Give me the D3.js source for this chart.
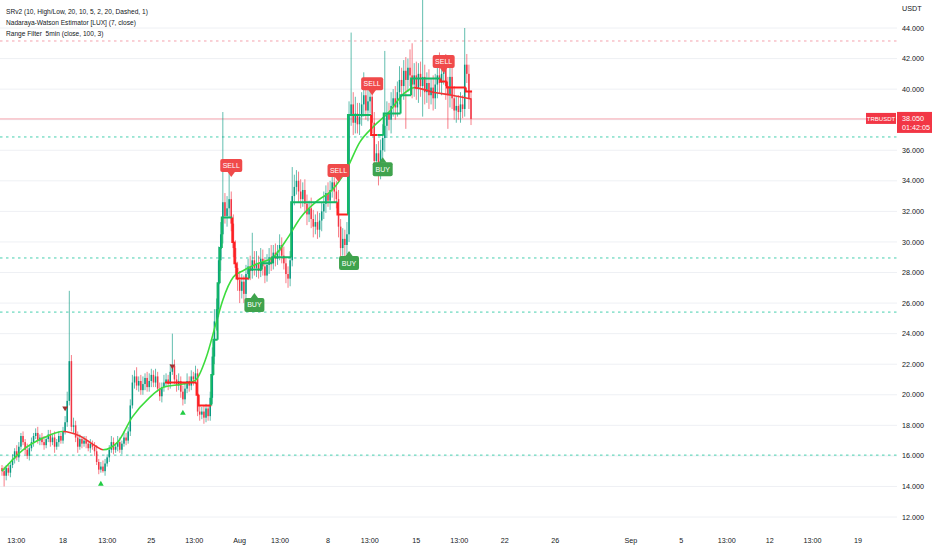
<!DOCTYPE html>
<html><head><meta charset="utf-8">
<script src="https://cdn.jsdelivr.net/npm/d3@7"></script>
<style>
body{margin:0;background:#fff;overflow:hidden}
svg{display:block;font-family:"Liberation Sans",Arial,sans-serif}
</style>
</head><body>
<svg id="c" width="932" height="550"></svg>
<script>
// ---------- DATA ----------
const symbol = "TRBUSDT";
const lastPrice = 38.05;
const countdown = "01:42:05";
const legendLines = ["SRv2 (10, High/Low, 20, 10, 5, 2, 20, Dashed, 1)",
  "Nadaraya-Watson Estimator [LUX] (7, close)",
  "Range Filter  5min (close, 100, 3)"];
const startDay = 13 + 4/24;           // first 4h candle: Jul 13 04:00 (day-of-July units)
const firstOpen = 15.2;
const closes = [
15.0,14.7,15.2,14.9,15.4,15.8,16.3,15.9,16.6,17.3,
16.9,16.4,16.0,16.5,16.9,17.3,17.5,17.0,17.2,16.9,
16.7,17.1,17.4,16.9,17.2,16.6,16.9,17.3,17.0,17.6,
18.2,19.6,22.2,17.9,18.0,17.2,16.6,17.1,16.8,17.0,
16.8,16.5,16.8,16.6,16.3,15.6,15.1,15.3,15.0,15.5,
15.9,16.4,16.9,16.4,16.6,16.9,16.4,16.8,17.2,17.0,
17.6,19.3,20.8,21.2,20.6,20.9,20.3,20.7,21.1,20.5,
20.9,21.3,20.8,21.2,20.4,19.9,20.5,20.8,21.0,20.7,
21.5,21.9,21.0,20.6,20.9,20.2,19.7,20.4,20.9,20.6,
21.2,21.0,21.4,18.9,18.7,18.9,18.5,19.1,18.6,19.8,
22.5,24.8,25.6,28.8,30.5,32.6,31.7,32.2,32.8,31.2,
29.6,28.3,27.5,26.8,27.4,26.6,27.9,28.4,28.1,28.8,
28.3,28.6,28.1,28.9,28.4,27.8,28.5,29.0,28.6,29.3,
28.9,29.4,29.8,29.1,28.6,27.9,27.6,28.8,33.0,33.6,
34.0,33.3,32.8,33.4,32.5,31.8,32.2,31.5,31.0,31.3,
30.8,31.4,32.0,32.5,33.2,32.7,33.4,33.9,33.3,32.8,
31.0,29.6,30.2,29.8,30.5,38.3,39.0,37.8,38.4,37.7,
38.2,39.0,39.6,38.6,39.2,39.5,37.8,35.3,35.8,34.9,
36.0,36.8,37.6,38.4,38.0,38.9,39.4,38.8,39.8,40.6,
40.2,41.2,40.6,41.4,40.9,40.3,40.9,40.0,41.0,40.2,
40.8,39.8,40.4,39.6,40.1,39.4,40.3,40.9,40.4,41.0,
41.4,40.2,39.6,40.8,39.4,38.6,38.9,38.5,39.0,38.7,
41.6,41.0,39.4,38.05];
const wickUp = [
.2,.3,.2,.3,.2,.3,.2,.4,.3,.2, .3,.2,.4,.2,.3,.2,.3,.4,.2,.3,
.4,.2,.3,.3,.2,.4,.2,.3,.2,.3, .4,.6,4.6,.4,.5,.3,.4,.3,.2,.3,
.3,.2,.3,.2,.3,.4,.2,.3,.4,.3, .2,.3,.4,.3,.2,.4,.3,.2,.4,.3,
.3,.4,.5,.4,.6,.3,.4,.5,.3,.4, .5,.4,.3,.5,.3,.4,.3,.5,.4,.3,
.5,2.1,.4,.3,.5,.3,.4,.3,.5,.3, .4,.3,.5,.3,.4,.3,.4,.3,.2,.4,
.6,.8,.7,.9,.8,5.9,.6,.8,1.8,.5, .6,.5,.4,.6,.5,.4,.6,.5,.7,1.8,
.6,.8,.5,.7,.6,.5,.7,.6,.8,.5, .6,.4,.7,.5,.6,.4,.5,.6,1.9,.8,
.7,.6,.8,.5,.7,.6,.5,.7,.6,.5, .7,.5,.6,.8,.5,.7,.6,.8,.5,.7,
.6,.5,.7,.6,.8,.9,4.7,.8,1.1,.7, .9,.8,1.5,.7,.9,.6,.8,.7,.6,.8,
.7,.9,4.9,.8,.7,.9,.6,.8,.7,.9, .8,.7,.9,.6,1.2,2.1,.8,.9,.7,.8,
5.7,.8,.7,.9,.6,.8,.7,.9,1.5,.8, .7,.9,.6,1.0,.7,.8,.6,.7,.8,.6,
2.4,.7,.6,.5];
const wickDn = [
.3,.7,.3,.2,.3,.2,.3,.2,.3,.2, .2,.3,.2,.3,.2,.3,.2,.2,.3,.2,
.3,.2,.2,.3,.2,.4,.2,.3,.2,.2, .2,.3,.3,.3,.4,.3,.4,.2,.3,.2,
.3,.2,.3,.2,.3,.2,.3,.2,.1,.3, .2,.3,.2,.3,.2,.3,.2,.3,.2,.3,
.2,.3,.2,.4,.3,.4,.3,.3,.4,.3, .3,.4,.3,.3,.2,.3,.4,.3,.3,.4,
.3,.2,.3,.4,.3,.4,.4,.3,.3,.4, .3,.4,.3,.3,.4,.3,.4,.3,.3,.3,
.4,.5,.6,.5,.7,.6,.5,.7,.6,.5, .6,.5,.7,.8,.5,.6,.5,.4,.6,.5,
.5,.6,.5,.4,.6,.5,.4,.6,.5,.4, .5,.4,.6,.5,.4,.6,.6,.5,.4,.6,
.5,.7,.6,.5,.6,.7,.5,.6,.7,.5, .6,.5,.7,.5,.6,.4,.6,.5,.7,.6,
.7,.6,.5,1.0,.6,.5,.7,.8,.7,.6, .7,.6,.8,.6,.7,.8,.7,.9,.8,1.2,
.8,.7,.9,.8,.7,.9,.7,.8,.6,.8, .7,.9,3.2,.8,.7,.9,.8,.7,.9,.7,
2.0,.8,.7,.9,.6,.8,.7,.9,.7,.8, .7,.9,2.2,.8,.7,.6,.8,.5,.7,.6,
.5,.6,.7,.4];
// Nadaraya-Watson estimate (candle index, value)
const nwIdx = [0,10,20,29,37,45,48,55,62,70,77,86,92,97,102,105,110,115,122,129,136,142,150,157,164,170,177,184,191,196,205,214,223];
const nwVal = [15.0,16.4,17.2,17.6,17.3,16.6,16.4,16.9,18.55,19.8,20.5,20.7,20.95,22.4,24.8,26.2,27.7,28.15,28.6,29.0,30.3,31.6,32.7,33.4,34.8,36.5,37.6,38.5,39.7,40.1,39.8,39.6,39.35];
const nwTurns = [29,48,196];          // direction changes: up->down->up->down
// Range filter steps (start index, level, direction)
const rfIdx = [78,93,94,100,101,103,104,105,110,111,112,118,124,129,138,160,165,176,179,182,190,195,209,212,221];
const rfVal = [20.8,20.0,19.3,21.3,23.6,27.3,29.6,31.6,30.0,28.6,27.6,28.2,28.6,29.0,32.6,31.8,38.3,37.0,37.0,38.4,39.6,40.7,40.5,40.1,39.85];
const rfDir = [-1,-1,-1,1,1,1,1,1,-1,-1,-1,1,1,1,1,-1,1,-1,1,1,1,1,-1,-1,-1];
// Signals
const buyIdx = [120,165,181], buyPrice = [26.66,29.4,35.55];
const sellIdx = [109,160,176,210], sellPrice = [34.25,33.92,39.6,41.05];
const upTriIdx = [47,86], upTriPrice = [14.16,18.8];
const dnTriIdx = [30,81], dnTriPrice = [19.13,21.88];
// Support / resistance (SRv2)
const resistLevels = [43.15];
const supportLevels = [36.87,28.95,25.41,16.05];
// Axes
const priceTicks = [12,14,16,18,20,22,24,26,28,30,32,34,36,38,40,42,44];
const timeTickDays = [14.3,18,21.5,25,28.4,32,35.2,39,42.3,46,49.4,53,57,63,67,70.6,74,77.4,81];
const timeTickLabels = ["13:00","18","13:00","25","13:00","Aug","13:00","8","13:00","15","13:00","22","26","Sep","5","13:00","12","13:00","19"];

// ---------- STYLE ----------
const UP="#089981", DN="#f23645", TXT="#131722";
const PLOT_R = 897;

const svg = d3.select("#c");
const x = d3.scaleLinear().domain([18,81]).range([63,858]);
const y = d3.scaleLinear().domain([12,44]).range([517,28]);
const cx = i => x(startDay + i/6);

svg.append("defs").append("clipPath").attr("id","clip")
  .append("rect").attr("x",0).attr("y",0).attr("width",PLOT_R).attr("height",525);

// grid
svg.append("g").selectAll("line").data(priceTicks).join("line")
  .attr("x1",0).attr("x2",PLOT_R).attr("y1",d=>y(d)).attr("y2",d=>y(d))
  .attr("stroke","#eef0f4").attr("stroke-width",1);

const plot = svg.append("g").attr("clip-path","url(#clip)");

// S/R dashed
plot.append("g").selectAll("line").data(resistLevels).join("line")
  .attr("x1",0).attr("x2",PLOT_R).attr("y1",d=>y(d)).attr("y2",d=>y(d))
  .attr("stroke","#f4a0ab").attr("stroke-width",1).attr("stroke-dasharray","2.5,3.5");
plot.append("g").selectAll("line").data(supportLevels).join("line")
  .attr("x1",0).attr("x2",PLOT_R).attr("y1",d=>y(d)).attr("y2",d=>y(d))
  .attr("stroke","#45cfae").attr("stroke-width",1).attr("stroke-dasharray","2.5,3.5");

// last price line
plot.append("line").attr("x1",0).attr("x2",866).attr("y1",y(lastPrice)).attr("y2",y(lastPrice))
  .attr("stroke","#f7a5ae").attr("stroke-width",1);

// candles
const candles = closes.map((c,i)=>{const o=i?closes[i-1]:firstOpen;
  return {i,o,c,h:Math.max(o,c)+wickUp[i],l:Math.min(o,c)-wickDn[i]};});
const cg = plot.append("g");
cg.selectAll("line").data(candles).join("line")
  .attr("x1",d=>cx(d.i)).attr("x2",d=>cx(d.i))
  .attr("y1",d=>y(d.h)).attr("y2",d=>y(d.l))
  .attr("stroke",d=>d.c>=d.o?UP:DN).attr("stroke-width",0.8).attr("stroke-opacity",0.8);
cg.selectAll("rect").data(candles).join("rect")
  .attr("x",d=>cx(d.i)-0.75).attr("width",1.5)
  .attr("y",d=>y(Math.max(d.o,d.c)))
  .attr("height",d=>Math.max(0.8,Math.abs(y(d.o)-y(d.c))))
  .attr("fill",d=>d.c>=d.o?UP:DN);

// Nadaraya-Watson line with direction colouring
const grad = svg.select("defs").append("linearGradient").attr("id","nwGrad")
  .attr("gradientUnits","userSpaceOnUse").attr("x1",0).attr("x2",932).attr("y1",0).attr("y2",0);
const NWG="#3ddc3d", NWR="#f03434";
let stops=[[0,NWG]]; let col=NWG;
nwTurns.forEach(t=>{const f=cx(t)/932; stops.push([f,col]); col = col===NWG?NWR:NWG; stops.push([f,col]);});
stops.push([1,col]);
stops.forEach(s=>grad.append("stop").attr("offset",s[0]).attr("stop-color",s[1]));
const nwPts = nwIdx.map((d,k)=>[cx(d),y(nwVal[k])]);
plot.append("path").attr("d",d3.line().curve(d3.curveMonotoneX)(nwPts))
  .attr("fill","none").attr("stroke","url(#nwGrad)").attr("stroke-width",1.6);

// Range filter steps
const RFG="#14b866", RFR="#ff2020";
const rfg = plot.append("g");
rfIdx.forEach((s,k)=>{
  const e = k<rfIdx.length-1 ? rfIdx[k+1] : closes.length;
  const x0 = cx(s)-1.05, x1 = cx(e)-1.05;
  const pts = [];
  if(k>0) pts.push([x0,y(rfVal[k-1])]);
  pts.push([x0,y(rfVal[k])],[x1,y(rfVal[k])]);
  rfg.append("path").attr("d",d3.line()(pts)).attr("fill","none")
    .attr("stroke",rfDir[k]>0?RFG:RFR).attr("stroke-width",2);
});

// small triangles
const tri = d3.symbol().type(d3.symbolTriangle).size(14);
plot.append("g").selectAll("path").data(upTriIdx).join("path")
  .attr("d",tri).attr("transform",(d,k)=>`translate(${cx(d)},${y(upTriPrice[k])})`).attr("fill","#22cc44");
plot.append("g").selectAll("path").data(dnTriIdx).join("path")
  .attr("d",tri).attr("transform",(d,k)=>`translate(${cx(d)},${y(dnTriPrice[k])}) rotate(180)`).attr("fill","#a03030");

// BUY / SELL labels
function label(px, tipY, up, txt, fill){
  const w = up?20:22, h = up?14:13, t=5;
  const g = svg.append("g");
  const by = up ? tipY + t : tipY - t - h;
  g.append("path").attr("d", up
      ? `M${px-4},${tipY+t+0.5}L${px},${tipY}L${px+4},${tipY+t+0.5}Z`
      : `M${px-4},${tipY-t-0.5}L${px},${tipY}L${px+4},${tipY-t-0.5}Z`).attr("fill",fill);
  g.append("rect").attr("x",px-w/2).attr("y",by).attr("width",w).attr("height",h).attr("rx",2).attr("fill",fill);
  g.append("text").attr("x",px).attr("y",by+h/2+2.4).attr("text-anchor","middle")
    .attr("fill","#fff").attr("font-size",7).attr("font-family","'Liberation Sans Narrow','Liberation Sans',Arial")
    .text(txt);
}
buyIdx.forEach((d,k)=>label(cx(d), y(buyPrice[k]), true, "BUY", "#3fa34d"));
sellIdx.forEach((d,k)=>label(cx(d), y(sellPrice[k]), false, "SELL", "#f04a4a"));

// price axis
svg.append("g").selectAll("text").data(priceTicks).join("text")
  .attr("x",902).attr("y",d=>y(d)+2.6).attr("font-size",7.2).attr("fill",TXT)
  .text(d=>d3.format(".3f")(d));
svg.append("text").attr("x",902).attr("y",10.5).attr("font-size",7.2).attr("fill",TXT).text("USDT");

// time axis
svg.append("g").selectAll("text").data(timeTickDays).join("text")
  .attr("x",d=>x(d)).attr("y",542.5).attr("text-anchor","middle").attr("font-size",7.2).attr("fill",TXT)
  .text((d,k)=>timeTickLabels[k]);

// last price boxes
const ly = y(lastPrice);
svg.append("rect").attr("x",866).attr("y",ly-6).attr("width",30).attr("height",11).attr("fill",DN);
svg.append("text").attr("x",881).attr("y",ly+2).attr("text-anchor","middle").attr("font-size",6).attr("fill","#fff").text(symbol);
svg.append("rect").attr("x",897).attr("y",ly-7).attr("width",35).attr("height",21).attr("fill",DN);
svg.append("text").attr("x",902).attr("y",ly+2.2).attr("font-size",7.2).attr("fill","#fff").text(d3.format(".3f")(lastPrice));
svg.append("text").attr("x",902).attr("y",ly+11).attr("font-size",7.2).attr("fill","#fff").text(countdown);

// legend
svg.append("g").selectAll("text").data(legendLines).join("text")
  .attr("x",6).attr("y",(d,k)=>14+k*11).attr("font-size",6.6).attr("fill",TXT)
  .attr("xml:space","preserve").style("white-space","pre").text(d=>d);
</script>
</body></html>
